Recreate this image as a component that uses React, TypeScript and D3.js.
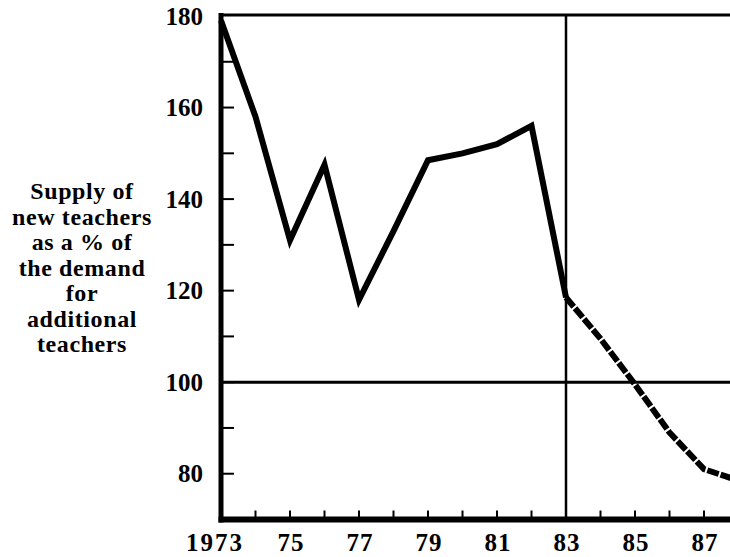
import React, { useRef, useEffect } from 'react'
import * as d3 from 'd3'

// values (supply as % of demand)
const actualYears = [1973, 1974, 1975, 1976, 1977, 1978, 1979, 1980, 1981, 1982, 1983]
const actualValues = [179, 158, 131, 147.5, 118, 133, 148.5, 150, 152, 156, 118.5]
const projectedYears = [1983, 1984, 1985, 1986, 1987, 1988]
const projectedValues = [118.5, 109.5, 99.5, 89, 81, 78.5]

const yTickLabels = [180, 160, 140, 120, 100, 80]
const yMinorTicks = [80, 90, 100, 110, 120, 130, 140, 150, 160, 170]
const xTickLabels = [
    { year: 1973, text: '1973' },
    { year: 1975, text: '75' },
    { year: 1977, text: '77' },
    { year: 1979, text: '79' },
    { year: 1981, text: '81' },
    { year: 1983, text: '83' },
    { year: 1985, text: '85' },
    { year: 1987, text: '87' },
]
const xMinorTicks = [1974, 1975, 1976, 1977, 1978, 1979, 1980, 1981, 1982, 1984, 1985, 1986, 1987]
const titleLines = ['Supply of', 'new teachers', 'as a % of', 'the demand', 'for', 'additional', 'teachers']

export default function App() {
    const svgRef = useRef<SVGSVGElement>(null)

    useEffect(() => {
        if (!svgRef.current) return
        const width = 730
        const height = 557
        const svg = d3.select(svgRef.current)
        svg.attr('width', width).attr('height', height)
        svg.selectAll('*').remove()

        const font = '"Liberation Serif", "DejaVu Serif", serif'
        const ink = '#000'

        const x = d3.scaleLinear().domain([1973, 1983]).range([221, 566])
        const y = d3.scaleLinear().domain([70, 180]).range([519.5, 16])
        const right = width

        svg.append('rect').attr('width', width).attr('height', height).attr('fill', '#fff')

        // frame: top rule, reference lines
        svg.append('line')
            .attr('x1', x(1973) - 2).attr('x2', right)
            .attr('y1', y(180) - 1).attr('y2', y(180) - 1)
            .attr('stroke', ink).attr('stroke-width', 3)

        svg.append('line')
            .attr('x1', x(1983)).attr('x2', x(1983))
            .attr('y1', y(180) - 1).attr('y2', y(70))
            .attr('stroke', ink).attr('stroke-width', 2.5)

        svg.append('line')
            .attr('x1', x(1973)).attr('x2', right)
            .attr('y1', y(100)).attr('y2', y(100))
            .attr('stroke', ink).attr('stroke-width', 3)

        // y ticks (pointing inward)
        svg.append('g').selectAll('line')
            .data(yMinorTicks)
            .join('line')
            .attr('x1', x(1973)).attr('x2', x(1973) + 13)
            .attr('y1', d => y(d)).attr('y2', d => y(d))
            .attr('stroke', ink).attr('stroke-width', 2)

        // x ticks (pointing up)
        svg.append('g').selectAll('line')
            .data(xMinorTicks)
            .join('line')
            .attr('x1', d => x(d)).attr('x2', d => x(d))
            .attr('y1', y(70)).attr('y2', y(70) - 9)
            .attr('stroke', ink).attr('stroke-width', 2)

        // axes
        svg.append('line')
            .attr('x1', x(1973)).attr('x2', x(1973))
            .attr('y1', y(180) - 3).attr('y2', y(70) + 3)
            .attr('stroke', ink).attr('stroke-width', 5)

        svg.append('line')
            .attr('x1', x(1973) - 2.5).attr('x2', right)
            .attr('y1', y(70)).attr('y2', y(70))
            .attr('stroke', ink).attr('stroke-width', 6)

        // data
        const line = d3.line<[number, number]>()
            .x(d => x(d[0]))
            .y(d => y(d[1]))

        svg.append('path')
            .datum(actualYears.map((yr, i) => [yr, actualValues[i]] as [number, number]))
            .attr('d', line)
            .attr('fill', 'none')
            .attr('stroke', ink)
            .attr('stroke-width', 6)
            .attr('stroke-linejoin', 'miter')
            .attr('stroke-miterlimit', 10)

        svg.append('path')
            .datum(projectedYears.map((yr, i) => [yr, projectedValues[i]] as [number, number]))
            .attr('d', line)
            .attr('fill', 'none')
            .attr('stroke', ink)
            .attr('stroke-width', 6)
            .attr('stroke-dasharray', '12 2')
            .attr('stroke-linejoin', 'round')

        // y tick labels
        svg.append('g').selectAll('text')
            .data(yTickLabels)
            .join('text')
            .attr('x', 203)
            .attr('y', d => y(d) + 8.5)
            .attr('text-anchor', 'end')
            .attr('fill', ink)
            .style('font-family', font)
            .style('font-weight', 'bold')
            .style('font-size', '25px')
            .text(d => d)

        // x tick labels
        svg.append('g').selectAll('text')
            .data(xTickLabels)
            .join('text')
            .attr('x', d => x(d.year) + (d.year === 1973 ? -6 : 1))
            .attr('y', 551)
            .attr('text-anchor', 'middle')
            .attr('fill', ink)
            .style('font-family', font)
            .style('font-weight', 'bold')
            .style('font-size', '25px')
            .style('letter-spacing', d => (d.year === 1973 ? '2px' : '1px'))
            .text(d => d.text)

        // y axis title
        svg.append('g').selectAll('text')
            .data(titleLines)
            .join('text')
            .attr('x', 82)
            .attr('y', (d, i) => 199 + i * 25.5)
            .attr('text-anchor', 'middle')
            .attr('fill', ink)
            .style('font-family', font)
            .style('font-weight', 'bold')
            .style('font-size', '24px')
            .style('letter-spacing', '0.6px')
            .text(d => d)
    }, [])

    return (
        <div style={{ position: 'absolute', left: 0, top: 0, width: 730, height: 557, background: '#fff' }}>
            <svg ref={svgRef} style={{ display: 'block' }} />
        </div>
    )
}
